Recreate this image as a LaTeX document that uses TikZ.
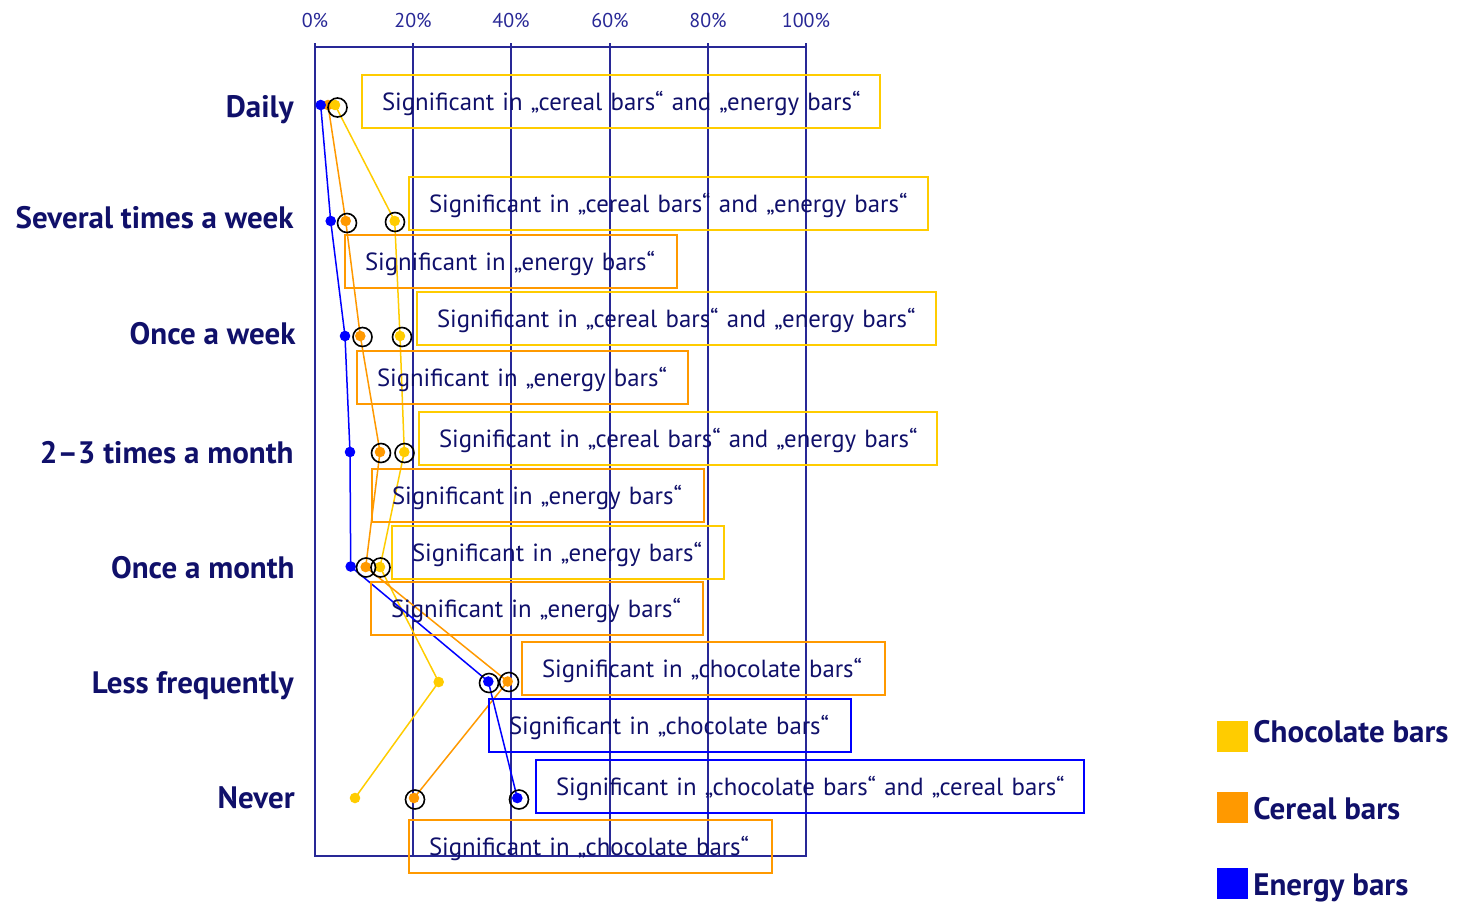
\documentclass[tikz,border=0pt]{standalone}
\usepackage{fontspec}
\setmainfont{PT Sans}
\definecolor{txt}{RGB}{16,16,106}
\definecolor{gridc}{RGB}{40,40,150}
\definecolor{cy}{RGB}{255,204,0}
\definecolor{co}{RGB}{255,153,0}
\definecolor{cb}{RGB}{0,0,255}
\begin{document}
\begin{tikzpicture}[x=0.5pt,y=-0.5pt,
  gridline/.style={draw=gridc,line width=0.75pt},
  ticklab/.style={text=gridc,font=\fontsize{10}{12}\selectfont,inner sep=0pt},
  catlab/.style={text=txt,font=\bfseries\fontsize{15.5}{18}\selectfont,anchor=base east,inner sep=0pt},
  leglab/.style={text=txt,font=\bfseries\fontsize{15.5}{18}\selectfont,anchor=base west,inner sep=0pt},
  sigbox/.style={draw,line width=1pt,minimum height=26.5pt,inner xsep=10pt,inner ysep=0pt,
    text height=10pt,text depth=1pt,
    align=left,anchor=north west,text=txt,font=\fontsize{12.4}{14}\selectfont},
  ring/.style={circle,draw=black,line width=0.8pt,minimum size=9.5pt,inner sep=0pt},
  pdot/.style={circle,minimum size=5.3pt,inner sep=0pt},
  sline/.style={line width=0.75pt}]
\useasboundingbox (0,0) rectangle (1463,901);
% frame and grid
\draw[gridline] (315,43) -- (315,856) -- (806,856) -- (806,43);
\draw[gridline] (315,47) -- (806,47);
\foreach \gx in {413,511,610,708} \draw[gridline] (\gx,43) -- (\gx,856);
\node[ticklab] (t0) at (315,20) {0\%};
\node[ticklab] (t20) at (413,20) {20\%};
\node[ticklab] (t40) at (511,20) {40\%};
\node[ticklab] (t60) at (610,20) {60\%};
\node[ticklab] (t80) at (708,20) {80\%};
\node[ticklab] (t100) at (806,20) {100\%};
% category labels
\node[catlab] (c1) at (294,117.5) {Daily};
\node[catlab] (c2) at (294,228.5) {Several times a week};
\node[catlab] (c3) at (296,344.3) {Once a week};
\node[catlab] (c4) at (294,463.3) {2–3 times a month};
\node[catlab] (c5) at (295,578.5) {Once a month};
\node[catlab] (c6) at (294,693.5) {Less frequently};
\node[catlab] (c7) at (295,808.5) {Never};
% data coordinates
\coordinate (Y1) at (335,105); \coordinate (Y2) at (394.7,221); \coordinate (Y3) at (400,336);
\coordinate (Y4) at (404.3,452); \coordinate (Y5) at (380,567); \coordinate (Y6) at (438.7,682);
\coordinate (Y7) at (355,798);
\coordinate (O1) at (328,105); \coordinate (O2) at (345.7,221); \coordinate (O3) at (360.3,336);
\coordinate (O4) at (380,452); \coordinate (O5) at (365.7,567); \coordinate (O6) at (507.7,681.5);
\coordinate (O7) at (414,798);
\coordinate (B1) at (320.7,105); \coordinate (B2) at (330.7,221); \coordinate (B3) at (345,336);
\coordinate (B4) at (350,452); \coordinate (B5) at (350.7,566.5); \coordinate (B6) at (488.3,681.5);
\coordinate (B7) at (517.3,798);
\draw[sline,draw=cy] (Y1) -- (Y2) -- (Y3) -- (Y4) -- (Y5) -- (Y6) -- (Y7);
\draw[sline,draw=co] (O1) -- (O2) -- (O3) -- (O4) -- (O5) -- (O6) -- (O7);
\draw[sline,draw=cb] (B1) -- (B2) -- (B3) -- (B4) -- (B5) -- (B6) -- (B7);
\foreach \i in {1,...,7} \node[pdot,fill=co] (o\i) at (O\i) {};
\foreach \i in {1,...,7} \node[pdot,fill=cb] (b\i) at (B\i) {};
\foreach \i in {1,...,7} \node[pdot,fill=cy] (y\i) at (Y\i) {};
% rings
\node[ring] (r1) at (337.5,107.5) {};
\node[ring] (r2) at (347,223) {};
\node[ring] (r3) at (395,222) {};
\node[ring] (r4) at (362.5,337) {};
\node[ring] (r5) at (402,337) {};
\node[ring] (r6) at (381,453) {};
\node[ring] (r7) at (404.5,453) {};
\node[ring] (r8) at (366,567.5) {};
\node[ring] (r9) at (380.5,567.5) {};
\node[ring] (r10) at (489,683) {};
\node[ring] (r11) at (509,682) {};
\node[ring] (r12) at (415,799.5) {};
\node[ring] (r13) at (519,799.5) {};
% boxes
\node[sigbox,draw=cy,text width=239pt] (s1) at (361,74) {\mbox{Significant in „cereal bars“ and „energy bars“}};
\node[sigbox,draw=cy,text width=239.5pt] (s2) at (408,176) {\mbox{Significant in „cereal bars“ and „energy bars“}};
\node[sigbox,draw=co,text width=146pt] (s3) at (344,234) {\mbox{Significant in „energy bars“}};
\node[sigbox,draw=cy,text width=239.5pt] (s4) at (416,291) {\mbox{Significant in „cereal bars“ and „energy bars“}};
\node[sigbox,draw=co,text width=145.5pt] (s5) at (356,350) {\mbox{Significant in „energy bars“}};
\node[sigbox,draw=cy,text width=239pt] (s6) at (418,411) {\mbox{Significant in „cereal bars“ and „energy bars“}};
\node[sigbox,draw=co,text width=146pt] (s7) at (371,468) {\mbox{Significant in „energy bars“}};
\node[sigbox,draw=cy,text width=146pt] (s8) at (391,525) {\mbox{Significant in „energy bars“}};
\node[sigbox,draw=co,text width=146pt] (s9) at (370,581) {\mbox{Significant in „energy bars“}};
\node[sigbox,draw=co,text width=161.5pt] (s10) at (521,641) {\mbox{Significant in „chocolate bars“}};
\node[sigbox,draw=cb,text width=161pt] (s11) at (488,698) {\mbox{Significant in „chocolate bars“}};
\node[sigbox,draw=cb,text width=254pt] (s12) at (535,759) {\mbox{Significant in „chocolate bars“ and „cereal bars“}};
\node[sigbox,draw=co,text width=161.5pt] (s13) at (408,819) {\mbox{Significant in „chocolate bars“}};
% legend
\fill[cy] (1217,721) rectangle (1248,752);
\fill[co] (1217,792) rectangle (1248,823);
\fill[cb] (1217,868) rectangle (1248,899);
\node[leglab] (l1) at (1253,742.7) {Chocolate bars};
\node[leglab] (l2) at (1253,819) {Cereal bars};
\node[leglab] (l3) at (1253,895) {Energy bars};
\end{tikzpicture}
\end{document}
